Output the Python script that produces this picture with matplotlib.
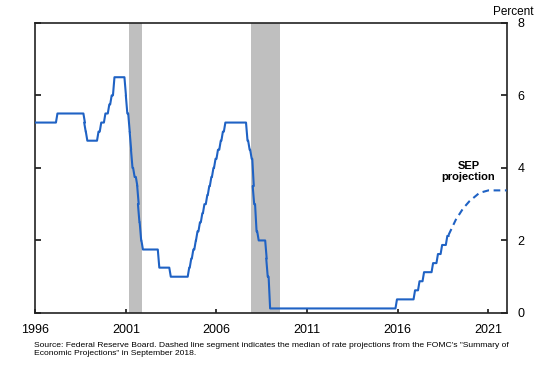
import matplotlib
matplotlib.use("Agg")
import matplotlib.pyplot as plt
import pandas as pd

plt.rcParams['font.family'] = ['Liberation Sans', 'DejaVu Sans']

# federal funds target rate (midpoint of range after 2008), dates of changes
change_dates = [
    "1996-01-01", "1997-03-25", "1998-09-29", "1998-10-15", "1998-11-17",
    "1999-06-30", "1999-08-24", "1999-11-16", "2000-02-02", "2000-03-21",
    "2000-05-16", "2001-01-03", "2001-01-31", "2001-03-20", "2001-04-18",
    "2001-05-15", "2001-06-27", "2001-08-21", "2001-09-17", "2001-10-02",
    "2001-11-06", "2001-12-11", "2002-11-06", "2003-06-25", "2004-06-30",
    "2004-08-10", "2004-09-21", "2004-11-10", "2004-12-14", "2005-02-02",
    "2005-03-22", "2005-05-03", "2005-06-30", "2005-08-09", "2005-09-20",
    "2005-11-01", "2005-12-13", "2006-01-31", "2006-03-28", "2006-05-10",
    "2006-06-29", "2007-09-18", "2007-10-31", "2007-12-11", "2008-01-22",
    "2008-01-30", "2008-03-18", "2008-04-30", "2008-10-08", "2008-10-29",
    "2008-12-16", "2015-12-16", "2016-12-14", "2017-03-15", "2017-06-14",
    "2017-12-13", "2018-03-21", "2018-06-13", "2018-09-26",
]
rates = [
    5.25, 5.5, 5.25, 5.0, 4.75,
    5.0, 5.25, 5.5, 5.75, 6.0,
    6.5, 6.0, 5.5, 5.0, 4.5,
    4.0, 3.75, 3.5, 3.0, 2.5,
    2.0, 1.75, 1.25, 1.0, 1.25,
    1.5, 1.75, 2.0, 2.25, 2.5,
    2.75, 3.0, 3.25, 3.5, 3.75,
    4.0, 4.25, 4.5, 4.75, 5.0,
    5.25, 4.75, 4.5, 4.25, 3.5,
    3.0, 2.25, 2.0, 1.5, 1.0,
    0.125, 0.375, 0.625, 0.875, 1.125,
    1.375, 1.625, 1.875, 2.125,
]
last_date = "2018-10-20"

# SEP median projection path
proj_years = [2018.8, 2019.2, 2019.6, 2019.95, 2020.5, 2021.0, 2022.0]
proj_rates = [2.15, 2.57, 2.88, 3.08, 3.31, 3.38, 3.38]

recessions = [("2001-03-01", "2001-11-30"), ("2007-12-01", "2009-06-30")]

x_ticks = [1996, 2001, 2006, 2011, 2016, 2021]
y_ticks = [0, 2, 4, 6, 8]


def decimal_year(s):
    d = pd.Timestamp(s)
    return d.year + (d.dayofyear - 1) / 365.25


# monthly data in the original is joined by straight lines, so each change
# is drawn as a ramp of about one month
xs, ys = [decimal_year(change_dates[0])], [rates[0]]
for d, r in zip(change_dates[1:], rates[1:]):
    t = decimal_year(d)
    xs += [t - 1 / 12, t]
    ys += [ys[-1], r]
xs.append(decimal_year(last_date))
ys.append(rates[-1])

blue = '#1F62C4'
fig = plt.figure(figsize=(5.5, 3.65), dpi=100)
ax = fig.add_axes([0.064, 0.1425, 0.857, 0.795])

for start, end in recessions:
    ax.axvspan(decimal_year(start), decimal_year(end), color='#BFBFBF', lw=0, zorder=1)

ax.plot(xs, ys, color=blue, lw=1.5, zorder=3)
ax.plot(proj_years, proj_rates, color=blue, lw=1.5, ls=(0, (3.2, 2.2)), zorder=3)

ax.set_xlim(1996, 2022)
ax.set_ylim(0, 8)
ax.set_xticks(x_ticks)
ax.set_xticklabels([str(t) for t in x_ticks], fontsize=9)
ax.set_yticks(y_ticks)
ax.yaxis.tick_right()
ax.tick_params(axis='y', which='both', left=True, right=True, labelleft=False,
               labelright=True, direction='in', length=4, width=1.1, labelsize=9, pad=8)
ax.tick_params(axis='x', direction='in', length=3, width=1.1, pad=8)
for s in ax.spines.values():
    s.set_linewidth(1.2)
    s.set_color('#222222')

ax.text(1.014, 1.015, "Percent", transform=ax.transAxes, ha='center', va='bottom', fontsize=8.5)
ax.text(2019.9, 3.9, "SEP\nprojection", ha='center', va='center', fontsize=8,
        fontweight='bold', linespacing=1.05)

fig.text(0.061, 0.043, "Source: Federal Reserve Board. Dashed line segment indicates the median of rate projections from the FOMC's \"Summary of\n"
         "Economic Projections\" in September 2018.", fontsize=6.1, va='center', linespacing=1.3)

fig.savefig("out.png", dpi=100)
